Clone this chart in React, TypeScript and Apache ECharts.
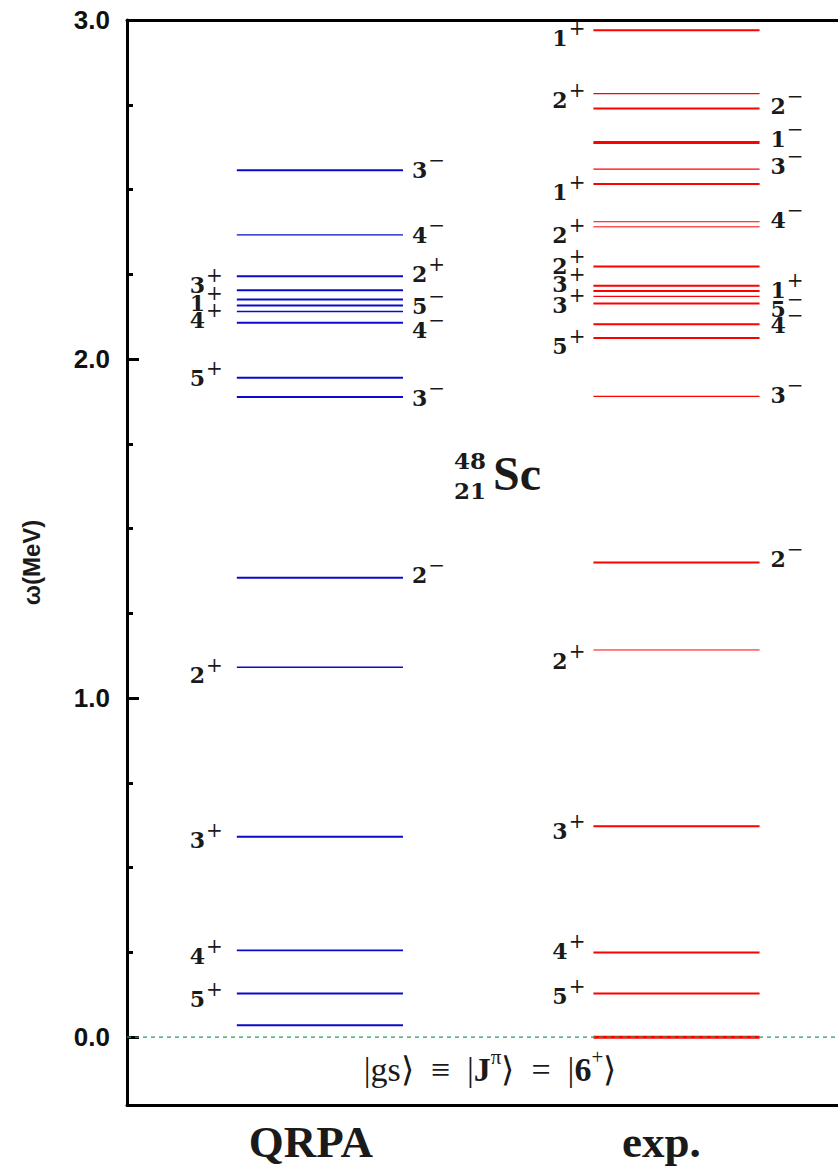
import { useEffect, useRef } from "react";
import * as echarts from "echarts";

// ---------- data ----------
const categories = ["QRPA", "exp."];
const categoryPositions = [1, 2];

const qrpaEnergies = [2.557, 2.366, 2.244, 2.203, 2.176, 2.158, 2.14, 2.107, 1.945, 1.888, 1.355, 1.091, 0.591, 0.256, 0.129, 0.035];
const qrpaSpins = ["3-", "4-", "2+", "3+", "1+", "5-", "4+", "4-", "5+", "3-", "2-", "2+", "3+", "4+", "5+", ""];
const qrpaSides = ["R", "R", "R", "L", "L", "R", "L", "R", "L", "R", "R", "L", "L", "L", "L", ""];

const expEnergies = [2.97, 2.783, 2.739, 2.639, 2.56, 2.516, 2.405, 2.39, 2.273, 2.216, 2.201, 2.185, 2.164, 2.103, 2.062, 1.89, 1.4, 1.142, 0.622, 0.25, 0.129, 0.0];
const expSpins = ["1+", "2+", "2-", "1-", "3-", "1+", "4-", "2+", "2+", "3+", "1+", "3+", "5-", "4-", "5+", "3-", "2-", "2+", "3+", "4+", "5+", ""];
const expSides = ["L", "L", "R", "R", "R", "L", "R", "L", "L", "L", "R", "L", "R", "R", "L", "R", "R", "L", "L", "L", "L", ""];

const groundEnergy = 0;
const majorTicks = [0, 1, 2, 3];
const minorTicks = [0.25, 0.5, 0.75, 1.25, 1.5, 1.75, 2.25, 2.5, 2.75];

// ---------- styling (not data) ----------
const qrpaLabelDy = [0, 0, -2, -5, 4, 1, 8, 7, 0, 1, -3, 8, 3, 6, 6, 0];
const qrpaWidths = [2, 1.2, 2, 2, 2, 2, 1.5, 2, 2, 2, 2, 1.6, 2, 1.6, 2, 2];
const expLabelDy = [8, 6, -2, -3, -3, 8, -2, 8, 0, -2, -1, 9, 6, 1, 8, -1, -4, 11, 5, -1, 3, 0];
const expWidths = [2, 1.2, 2, 3, 1.2, 2, 1, 1, 2, 2, 2, 1.2, 2, 2, 2, 1.2, 2, 1, 2, 2, 2, 3];

const X_MIN = 0.459;
const X_MAX = 2.453;
const HALF = 0.233;
const TEXT = "#1a1a1a";

function levelSeries(
  pos: number,
  energies: number[],
  spins: string[],
  sides: string[],
  dys: number[],
  widths: number[],
  color: string,
  gapL: number,
  gapR: number
) {
  return {
    type: "custom",
    xAxisIndex: 0,
    yAxisIndex: 0,
    z: 2,
    data: energies.map((e) => [pos, e]),
    renderItem: (params: any, api: any) => {
      const i = params.dataIndex;
      const xc = api.value(0);
      const e = api.value(1);
      const p0 = api.coord([xc - HALF, e]);
      const p1 = api.coord([xc + HALF, e]);
      const children: any[] = [
        {
          type: "line",
          shape: { x1: p0[0], y1: p0[1], x2: p1[0], y2: p1[1] },
          style: { stroke: color, lineWidth: widths[i] },
        },
      ];
      const s = spins[i];
      if (s) {
        const num = s.slice(0, -1);
        const sign = s.endsWith("+") ? "+" : "\u2212";
        const left = sides[i] === "L";
        children.push({
          type: "text",
          x: left ? p0[0] - gapL : p1[0] + gapR,
          y: p0[1] + dys[i],
          style: {
            text: `{n|${num}}{s|${sign}}`,
            align: left ? "right" : "left",
            verticalAlign: "middle",
            rich: {
              n: {
                fontFamily: "DejaVu Serif",
                fontWeight: "bold",
                fontSize: 22,
                lineHeight: 40,
                fill: TEXT,
              },
              s: {
                fontFamily: "DejaVu Serif",
                fontSize: 20,
                lineHeight: 6,
                verticalAlign: "top",
                padding: [0, 0, 0, 1],
                fill: TEXT,
              },
            },
          },
        });
      }
      return { type: "group", children };
    },
  };
}

export default function App() {
  const ref = useRef<HTMLDivElement>(null);
  useEffect(() => {
    const chart = echarts.init(ref.current!, null, { renderer: "svg" });
    const option: any = {
      animation: false,
      backgroundColor: "#fff",
      grid: { left: 127, right: 0, top: 20, bottom: 61, containLabel: false },
      xAxis: [
        {
          type: "value",
          position: "bottom",
          min: X_MIN,
          max: X_MAX,
          axisLine: { show: true, onZero: false, lineStyle: { color: "#000", width: 3 } },
          axisTick: { show: false },
          splitLine: { show: false },
          axisLabel: {
            customValues: categoryPositions,
            margin: 12,
            formatter: (v: number) =>
              v === categoryPositions[0] ? `{q|${categories[0]}}` : `{e|${categories[1]}}`,
            rich: {
              q: {
                fontFamily: "Liberation Serif",
                fontWeight: "bold",
                fontSize: 45,
                lineHeight: 50,
                color: TEXT,
                padding: [0, 18, 0, 0],
              },
              e: {
                fontFamily: "Liberation Serif",
                fontWeight: "bold",
                fontSize: 45,
                lineHeight: 50,
                color: TEXT,
                padding: [0, 30, 0, 0],
              },
            },
          },
        },
        {
          type: "value",
          position: "top",
          min: X_MIN,
          max: X_MAX,
          axisLine: { show: true, onZero: false, lineStyle: { color: "#000", width: 3 } },
          axisTick: { show: false },
          axisLabel: { show: false },
          splitLine: { show: false },
        },
      ],
      yAxis: [
        {
          type: "value",
          position: "left",
          min: -0.2,
          max: 3,
          name: "\u03c9(MeV)",
          nameLocation: "middle",
          nameGap: 84,
          nameTextStyle: {
            fontFamily: "Liberation Sans",
            fontWeight: "bold",
            fontSize: 24,
            color: TEXT,
          },
          axisLine: { show: true, onZero: false, lineStyle: { color: "#000", width: 3 } },
          axisTick: {
            show: true,
            inside: true,
            length: 12,
            customValues: majorTicks,
            lineStyle: { color: "#000", width: 3 },
          },
          axisLabel: {
            customValues: majorTicks,
            formatter: (v: number) => v.toFixed(1),
            fontFamily: "Liberation Sans",
            fontWeight: "bold",
            fontSize: 26,
            color: "#111",
            margin: 17,
          },
          splitLine: { show: false },
        },
        {
          type: "value",
          position: "left",
          min: -0.2,
          max: 3,
          axisLine: { show: false },
          axisTick: {
            show: true,
            inside: true,
            length: 6,
            customValues: minorTicks,
            lineStyle: { color: "#000", width: 3 },
          },
          axisLabel: { show: false },
          splitLine: { show: false },
        },
      ],
      series: [
        levelSeries(categoryPositions[0], qrpaEnergies, qrpaSpins, qrpaSides, qrpaLabelDy, qrpaWidths, "#0a0acc", 14, 9),
        levelSeries(categoryPositions[1], expEnergies, expSpins, expSides, expLabelDy, expWidths, "#ff0000", 8, 11),
        {
          type: "line",
          xAxisIndex: 0,
          yAxisIndex: 0,
          z: 5,
          symbol: "none",
          silent: true,
          data: [
            [X_MIN, groundEnergy],
            [X_MAX, groundEnergy],
          ],
          lineStyle: { color: "#23a05c", width: 1.2, type: [4, 4] },
        },
      ],
      graphic: [
        {
          type: "text",
          x: 490,
          y: 1069,
          z: 10,
          style: {
            text: "{t||gs\u27e9\u2002\u2261\u2002|}{b|J}{p|\u03c0}{t|\u27e9\u2002=\u2002|}{b|6}{p|+}{t|\u27e9}",
            align: "center",
            verticalAlign: "middle",
            rich: {
              t: { fontFamily: "Liberation Serif", fontSize: 34, lineHeight: 46, fill: TEXT },
              b: { fontFamily: "Liberation Serif", fontWeight: "bold", fontSize: 34, lineHeight: 46, fill: TEXT },
              p: { fontFamily: "Liberation Serif", fontSize: 21, lineHeight: 6, verticalAlign: "top", fill: TEXT },
            },
          },
        },
        {
          type: "text",
          x: 470,
          y: 460,
          style: { text: "48", font: 'bold 23px "DejaVu Serif"', align: "center", verticalAlign: "middle", fill: TEXT },
        },
        {
          type: "text",
          x: 470,
          y: 490,
          style: { text: "21", font: 'bold 23px "DejaVu Serif"', align: "center", verticalAlign: "middle", fill: TEXT },
        },
        {
          type: "text",
          x: 493,
          y: 473,
          style: { text: "Sc", font: 'bold 48px "Liberation Serif"', align: "left", verticalAlign: "middle", fill: TEXT },
        },
      ],
    };
    chart.setOption(option);
    return () => chart.dispose();
  }, []);
  return (
    <div
      ref={ref}
      style={{ position: "fixed", left: 0, top: 0, width: 838, height: 1166, background: "#fff" }}
    />
  );
}
